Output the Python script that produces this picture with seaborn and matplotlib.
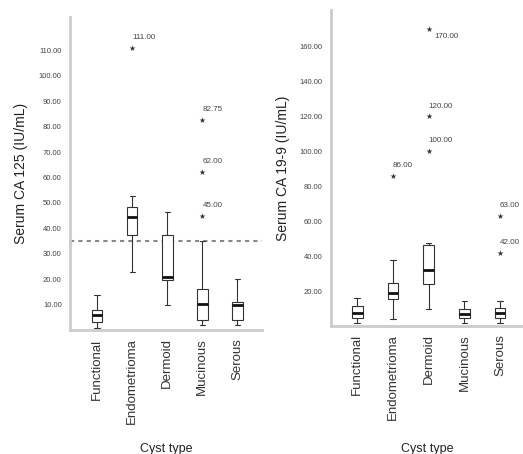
import matplotlib
matplotlib.use("Agg")
import matplotlib.pyplot as plt
import seaborn as sns
import pandas as pd

cyst_types = ["Functional", "Endometrioma", "Dermoid", "Mucinous", "Serous"]

# five-number summaries: whisker low, Q1, median, Q3, whisker high
ca125_low = [0.7, 22.8, 9.7, 1.9, 1.9]
ca125_q1 = [3.2, 37.2, 19.5, 3.8, 3.8]
ca125_med = [5.8, 44.4, 20.8, 10.4, 9.7]
ca125_q3 = [7.8, 48.3, 37.2, 16.3, 11.0]
ca125_high = [13.6, 52.9, 46.3, 35.2, 20.2]
ca125_out_type = ["Endometrioma", "Mucinous", "Mucinous", "Mucinous"]
ca125_out_val = [111.00, 82.75, 62.00, 45.00]

ca199_low = [1.9, 3.8, 9.5, 1.9, 1.9]
ca199_q1 = [4.7, 15.2, 23.8, 4.7, 4.7]
ca199_med = [7.6, 19.0, 32.3, 6.6, 7.6]
ca199_q3 = [11.4, 24.7, 46.6, 9.5, 10.4]
ca199_high = [16.2, 38.0, 47.6, 14.3, 14.3]
ca199_out_type = ["Endometrioma", "Dermoid", "Dermoid", "Dermoid", "Serous", "Serous"]
ca199_out_val = [86.00, 170.00, 120.00, 100.00, 63.00, 42.00]

cutoff_125 = 35


def summary_frame(low, q1, med, q3, high):
    rows = []
    for i, name in enumerate(cyst_types):
        for v in (low[i], q1[i], med[i], q3[i], high[i]):
            rows.append({"cyst": name, "value": v})
    return pd.DataFrame(rows)


sns.set_style("white")
plt.rcParams["font.family"] = ["Liberation Sans", "DejaVu Sans"]

fig = plt.figure(figsize=(5.23, 4.54), dpi=100)
ax1 = fig.add_axes([0.134, 0.273, 0.367, 0.689])
ax2 = fig.add_axes([0.633, 0.282, 0.367, 0.696])

panels = [
    (ax1, summary_frame(ca125_low, ca125_q1, ca125_med, ca125_q3, ca125_high),
     ca125_out_type, ca125_out_val, "Serum CA 125 (IU/mL)", (0, 123), range(10, 111, 10),
     (-0.77, 4.7), (330 - 443) / 313),
    (ax2, summary_frame(ca199_low, ca199_q1, ca199_med, ca199_q3, ca199_high),
     ca199_out_type, ca199_out_val, "Serum CA 19-9 (IU/mL)", (0, 181), range(20, 161, 20),
     (-0.73, 4.64), (326 - 443) / 316),
]

for ax, df, out_t, out_v, ylab, ylim, yticks, xlim, xlab_y in panels:
    sns.boxplot(data=df, x="cyst", y="value", order=cyst_types, whis=(0, 100),
                width=0.3, color="white", linecolor="#333333", linewidth=0.8,
                medianprops=dict(color="#111111", linewidth=2),
                capprops=dict(color="#333333", linewidth=0.8), ax=ax)
    sns.stripplot(x=out_t, y=out_v, order=cyst_types, jitter=False, marker="*",
                  size=4.5, color="#333333", ax=ax)
    for t, v in zip(out_t, out_v):
        i = cyst_types.index(t)
        off = (4, -8) if v > 150 else (0, 5)
        ax.annotate(f"{v:.2f}", xy=(i, v), xytext=off, textcoords="offset points",
                    fontsize=5.8, color="#444444", ha="left", va="bottom")
    ax.set_ylim(*ylim)
    ax.set_xlim(*xlim)
    ax.set_yticks(list(yticks))
    ax.set_yticklabels([f"{v:.2f}" for v in yticks], fontsize=5.5, color="#444444")
    ax.tick_params(axis="both", length=0, pad=6)
    ax.set_xticks(range(len(cyst_types)))
    ax.set_xticklabels(cyst_types, rotation=90, fontsize=9.5, color="#333333")
    ax.set_ylabel(ylab, fontsize=10, color="#222222")
    ax.set_xlabel("Cyst type", fontsize=9, color="#222222")
    ax.xaxis.set_label_coords(0.5, xlab_y)
    for s in ("top", "right"):
        ax.spines[s].set_visible(False)
    for s in ("left", "bottom"):
        ax.spines[s].set_color("#cccccc")
        ax.spines[s].set_linewidth(2)

ax1.axhline(cutoff_125, color="#888888", linestyle=(0, (2, 2)), linewidth=1.5, zorder=0)
ax1.yaxis.set_label_coords(-0.219, 0.5)
ax2.yaxis.set_label_coords(-0.214, 0.5)

fig.savefig("out.png", dpi=100)
